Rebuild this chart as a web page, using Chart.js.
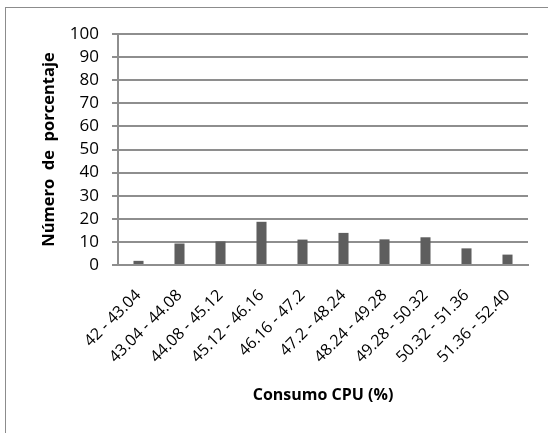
<!DOCTYPE html>
<html>
<head>
<meta charset="utf-8">
<script src="https://cdn.jsdelivr.net/npm/chart.js@4/dist/chart.umd.min.js"></script>
<style>
  html, body { margin: 0; padding: 0; background: #fff; }
  #wrap { position: relative; width: 548px; height: 433px; overflow: hidden; }
  #frame { position: absolute; left: 5px; top: 7px; width: 600px; height: 500px;
           border-left: 1px solid #8c8c8c; border-top: 1px solid #8c8c8c; box-sizing: border-box; }
  canvas { position: absolute; left: 0; top: 0; }
</style>
</head>
<body>
<div id="wrap">
  <div id="frame"></div>
  <canvas id="c" width="548" height="433"></canvas>
</div>
<script>
// CPU usage ranges (histogram bins) and the share of samples in each
const categories = ['42 - 43.04', '43.04 - 44.08', '44.08 - 45.12', '45.12 - 46.16', '46.16 - 47.2',
                    '47.2 - 48.24', '48.24 - 49.28', '49.28 - 50.32', '50.32 - 51.36', '51.36 - 52.40'];
const percentages = [1.8, 9.3, 10.2, 18.7, 11.0, 13.9, 11.1, 12.0, 7.2, 4.5];
const yTicks = [0, 10, 20, 30, 40, 50, 60, 70, 80, 90, 100];

const xTitle = 'Consumo CPU (%)';
const yTitle = 'Número  de  porcentaje';

const FONT = '"Open Sans", Lato, sans-serif';
const GRID = '#8e8e8e';

new Chart(document.getElementById('c'), {
  type: 'bar',
  data: {
    labels: categories,
    datasets: [{
      data: percentages,
      backgroundColor: '#5e5e5e',
      borderWidth: 0,
      barPercentage: 0.5,
      categoryPercentage: 0.49
    }]
  },
  options: {
    responsive: false,
    animation: false,
    devicePixelRatio: 1,
    layout: { padding: { left: 5, top: 34, right: 20, bottom: 28 } },
    plugins: { legend: { display: false }, tooltip: { enabled: false } },
    scales: {
      x: {
        grid: { display: false },
        border: { display: true, color: GRID, width: 2 },
        ticks: {
          color: '#000',
          font: { family: FONT, size: 16 },
          minRotation: 45,
          maxRotation: 45,
          autoSkip: false,
          padding: 13
        },
        title: {
          display: true,
          text: xTitle,
          color: '#000',
          font: { family: FONT, size: 16, weight: 'bold' },
          padding: { top: 0, bottom: 0 }
        },
        afterFit(scale) { scale.height = 140; }
      },
      y: {
        min: 0,
        max: 100,
        afterBuildTicks(scale) { scale.ticks = yTicks.map(v => ({ value: v })); },
        grid: { color: GRID, lineWidth: 2, tickLength: 6, drawTicks: true, tickColor: GRID },
        border: { display: true, color: GRID, width: 2 },
        ticks: {
          color: '#000',
          font: { family: FONT, size: 17 },
          padding: 13,
          autoSkip: false
        },
        title: {
          display: true,
          text: yTitle,
          color: '#000',
          font: { family: FONT, size: 16.5, weight: 'bold' },
          padding: { top: 34, bottom: 0 }
        },
        afterFit(scale) { scale.width = 113; }
      }
    }
  }
});
</script>
</body>
</html>
